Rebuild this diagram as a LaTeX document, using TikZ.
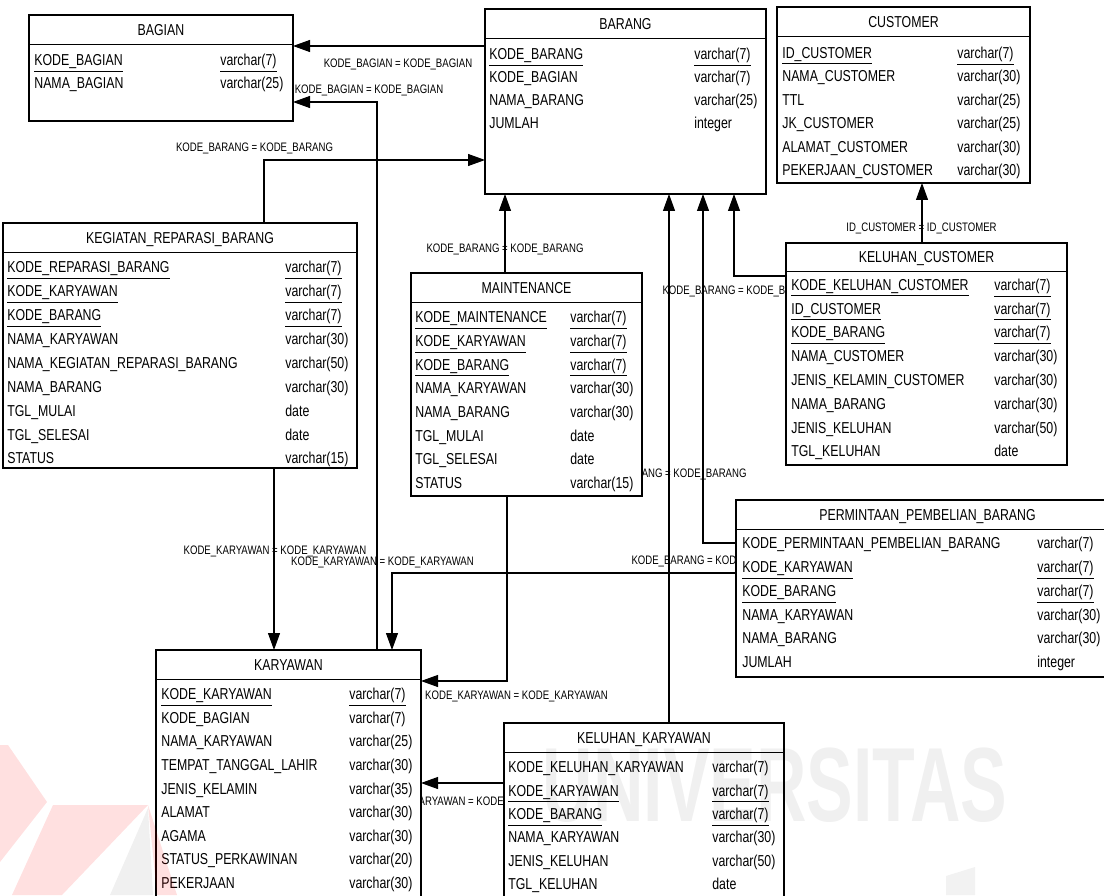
\documentclass[tikz,border=0pt]{standalone}
\usepackage{fontspec}
\setmainfont[FakeStretch=0.78]{Liberation Sans}
\usetikzlibrary{arrows.meta}

\begin{document}
\begin{tikzpicture}[x=0.02cm,y=-0.02cm]
\tikzstyle{tbl} = [draw, fill=white, line width=0.6pt, anchor=north west, inner sep=0pt, outer sep=0pt]
\tikzstyle{ttl} = [anchor=base, inner sep=0pt, font=\fontsize{9}{11}\selectfont]
\tikzstyle{fld} = [anchor=base west, inner sep=0pt, font=\fontsize{9}{11}\selectfont]
\tikzstyle{rel} = [anchor=base, inner sep=0pt, font=\fontsize{7}{8}\selectfont]
\tikzstyle{fk} = [line width=0.6pt, -{Triangle[length=3.4mm,width=2.4mm]}]

\useasboundingbox (0,0) rectangle (1104,895);
\clip (0,0) rectangle (1104,895);

% tables (empty frames first, so the connectors can use their names)
\path node[tbl, minimum width=264*0.02cm, minimum height=106*0.02cm] (bagian) at (29,15) {}
      node[tbl, minimum width=281*0.02cm, minimum height=185*0.02cm] (barang) at (485,9) {}
      node[tbl, minimum width=253*0.02cm, minimum height=176*0.02cm] (customer) at (777,7) {}
      node[tbl, minimum width=354*0.02cm, minimum height=245*0.02cm] (kegiatan) at (3,223) {}
      node[tbl, minimum width=231*0.02cm, minimum height=223*0.02cm] (maintenance) at (411,273) {}
      node[tbl, minimum width=281*0.02cm, minimum height=222*0.02cm] (kelcust) at (786,243) {}
      node[tbl, minimum width=383*0.02cm, minimum height=177*0.02cm] (permintaan) at (736,500) {}
      node[tbl, minimum width=265*0.02cm, minimum height=260*0.02cm] (karyawan) at (156,650) {}
      node[tbl, minimum width=280*0.02cm, minimum height=200*0.02cm] (kelkary) at (504,723) {};

% relations
\draw[fk] (barang.west |- 0,46) -- (bagian.east |- 0,46);
\draw[fk] (karyawan.north -| 377,0) |- (bagian.east |- 0,102);
\draw[fk] (kegiatan.north -| 264,0) |- (barang.west |- 0,160);
\draw[fk] (maintenance.north -| 505,0) -- (barang.south -| 505,0);
\draw[fk] (kelcust.west |- 0,276) -| (barang.south -| 734,0);
\draw[fk] (kelcust.north -| 922,0) -- (customer.south -| 922,0);
\draw[fk] (kelkary.north -| 669,0) -- (barang.south -| 669,0);
\draw[fk] (permintaan.west |- 0,543) -| (barang.south -| 703,0);
\draw[fk] (kegiatan.south -| 274,0) -- (karyawan.north -| 274,0);
\draw[fk] (permintaan.west |- 0,573) -| (karyawan.north -| 392,0);
\draw[fk] (maintenance.south -| 507,0) |- (karyawan.east |- 0,681);
\draw[fk] (kelkary.west |- 0,783) -- (karyawan.east |- 0,783);

\node[rel] (l1) at (398,67.4) {KODE\_BAGIAN = KODE\_BAGIAN};
\node[rel] (l2) at (369,93.4) {KODE\_BAGIAN = KODE\_BAGIAN};
\node[rel] (l3) at (254.5,151.4) {KODE\_BARANG = KODE\_BARANG};
\node[rel] (l4) at (505,252.4) {KODE\_BARANG = KODE\_BARANG};
\node[rel] (l5) at (741,294.4) {KODE\_BARANG = KODE\_BARANG};
\node[rel] (l6) at (921.5,231.4) {ID\_CUSTOMER = ID\_CUSTOMER};
\node[rel] (l7) at (668,477.4) {KODE\_BARANG = KODE\_BARANG};
\node[rel] (l8) at (710,564.4) {KODE\_BARANG = KODE\_BARANG};
\node[rel] (l9) at (275,554.4) {KODE\_KARYAWAN = KODE\_KARYAWAN};
\node[rel] (l10) at (382.5,565.4) {KODE\_KARYAWAN = KODE\_KARYAWAN};
\node[rel] (l11) at (516.5,699.4) {KODE\_KARYAWAN = KODE\_KARYAWAN};
\node[rel] (l12) at (471,805.4) {KODE\_KARYAWAN = KODE\_KARYAWAN};

% BAGIAN
\node[tbl, minimum width=264*0.02cm, minimum height=106*0.02cm] (bagian-f) at (29,15) {};
\draw (bagian.west |- 0,44) -- (bagian.east |- 0,44);
\node[ttl] (bagian-h) at (161,35.5) {BAGIAN};
\foreach \n/\t [count=\i] in {\underline{KODE\_BAGIAN}/\underline{varchar(7)}, NAMA\_BAGIAN/varchar(25)}
  \path (34,{65.7+23*(\i-1)}) node[fld] (bagian-n\i) {\n}
        (220,{65.7+23*(\i-1)}) node[fld] (bagian-t\i) {\t};

% BARANG
\node[tbl, minimum width=281*0.02cm, minimum height=185*0.02cm] (barang-f) at (485,9) {};
\draw (barang.west |- 0,38) -- (barang.east |- 0,38);
\node[ttl] (barang-h) at (625.5,29.5) {BARANG};
\foreach \n/\t [count=\i] in {\underline{KODE\_BARANG}/\underline{varchar(7)}, KODE\_BAGIAN/varchar(7),
    NAMA\_BARANG/varchar(25), JUMLAH/integer}
  \path (489,{59.7+23*(\i-1)}) node[fld] (barang-n\i) {\n}
        (694,{59.7+23*(\i-1)}) node[fld] (barang-t\i) {\t};

% CUSTOMER
\node[tbl, minimum width=253*0.02cm, minimum height=176*0.02cm] (customer-f) at (777,7) {};
\draw (customer.west |- 0,36) -- (customer.east |- 0,36);
\node[ttl] (customer-h) at (903.5,27.5) {CUSTOMER};
\foreach \n/\t [count=\i] in {\underline{ID\_CUSTOMER}/\underline{varchar(7)}, NAMA\_CUSTOMER/varchar(30),
    TTL/varchar(25), JK\_CUSTOMER/varchar(25), ALAMAT\_CUSTOMER/varchar(30), PEKERJAAN\_CUSTOMER/varchar(30)}
  \path (782,{58.2+23.5*(\i-1)}) node[fld] (customer-n\i) {\n}
        (957,{58.2+23.5*(\i-1)}) node[fld] (customer-t\i) {\t};

% KEGIATAN_REPARASI_BARANG
\node[tbl, minimum width=354*0.02cm, minimum height=245*0.02cm] (kegiatan-f) at (3,223) {};
\draw (kegiatan.west |- 0,252) -- (kegiatan.east |- 0,252);
\node[ttl] (kegiatan-h) at (180,243.5) {KEGIATAN\_REPARASI\_BARANG};
\foreach \n/\t [count=\i] in {\underline{KODE\_REPARASI\_BARANG}/\underline{varchar(7)},
    \underline{KODE\_KARYAWAN}/\underline{varchar(7)}, \underline{KODE\_BARANG}/\underline{varchar(7)},
    NAMA\_KARYAWAN/varchar(30), NAMA\_KEGIATAN\_REPARASI\_BARANG/varchar(50), NAMA\_BARANG/varchar(30),
    TGL\_MULAI/date, TGL\_SELESAI/date, STATUS/varchar(15)}
  \path (7,{272.7+23.9*(\i-1)}) node[fld] (kegiatan-n\i) {\n}
        (285,{272.7+23.9*(\i-1)}) node[fld] (kegiatan-t\i) {\t};

% MAINTENANCE
\node[tbl, minimum width=231*0.02cm, minimum height=223*0.02cm] (maintenance-f) at (411,273) {};
\draw (maintenance.west |- 0,302) -- (maintenance.east |- 0,302);
\node[ttl] (maintenance-h) at (526.5,293.5) {MAINTENANCE};
\foreach \n/\t [count=\i] in {\underline{KODE\_MAINTENANCE}/\underline{varchar(7)},
    \underline{KODE\_KARYAWAN}/\underline{varchar(7)}, \underline{KODE\_BARANG}/\underline{varchar(7)},
    NAMA\_KARYAWAN/varchar(30), NAMA\_BARANG/varchar(30), TGL\_MULAI/date, TGL\_SELESAI/date, STATUS/varchar(15)}
  \path (415,{322.7+23.7*(\i-1)}) node[fld] (maintenance-n\i) {\n}
        (570,{322.7+23.7*(\i-1)}) node[fld] (maintenance-t\i) {\t};

% KELUHAN_CUSTOMER
\node[tbl, minimum width=281*0.02cm, minimum height=222*0.02cm] (kelcust-f) at (786,243) {};
\draw (kelcust.west |- 0,271) -- (kelcust.east |- 0,271);
\node[ttl] (kelcust-h) at (926.5,262.5) {KELUHAN\_CUSTOMER};
\foreach \n/\t [count=\i] in {\underline{KODE\_KELUHAN\_CUSTOMER}/\underline{varchar(7)},
    \underline{ID\_CUSTOMER}/\underline{varchar(7)}, \underline{KODE\_BARANG}/\underline{varchar(7)},
    NAMA\_CUSTOMER/varchar(30), JENIS\_KELAMIN\_CUSTOMER/varchar(30), NAMA\_BARANG/varchar(30),
    JENIS\_KELUHAN/varchar(50), TGL\_KELUHAN/date}
  \path (791,{290.2+23.8*(\i-1)}) node[fld] (kelcust-n\i) {\n}
        (994,{290.2+23.8*(\i-1)}) node[fld] (kelcust-t\i) {\t};

% PERMINTAAN_PEMBELIAN_BARANG
\node[tbl, minimum width=383*0.02cm, minimum height=177*0.02cm] (permintaan-f) at (736,500) {};
\draw (permintaan.west |- 0,529) -- (permintaan.east |- 0,529);
\node[ttl] (permintaan-h) at (927.5,520.5) {PERMINTAAN\_PEMBELIAN\_BARANG};
\foreach \n/\t [count=\i] in {KODE\_PERMINTAAN\_PEMBELIAN\_BARANG/varchar(7),
    \underline{KODE\_KARYAWAN}/\underline{varchar(7)}, \underline{KODE\_BARANG}/\underline{varchar(7)},
    NAMA\_KARYAWAN/varchar(30), NAMA\_BARANG/varchar(30), JUMLAH/integer}
  \path (742,{548.7+23.8*(\i-1)}) node[fld] (permintaan-n\i) {\n}
        (1037,{548.7+23.8*(\i-1)}) node[fld] (permintaan-t\i) {\t};

% KARYAWAN
\node[tbl, minimum width=265*0.02cm, minimum height=260*0.02cm] (karyawan-f) at (156,650) {};
\draw (karyawan.west |- 0,679) -- (karyawan.east |- 0,679);
\node[ttl] (karyawan-h) at (288.5,670.5) {KARYAWAN};
\foreach \n/\t [count=\i] in {\underline{KODE\_KARYAWAN}/\underline{varchar(7)}, KODE\_BAGIAN/varchar(7),
    NAMA\_KARYAWAN/varchar(25), TEMPAT\_TANGGAL\_LAHIR/varchar(30), JENIS\_KELAMIN/varchar(35),
    ALAMAT/varchar(30), AGAMA/varchar(30), STATUS\_PERKAWINAN/varchar(20), PEKERJAAN/varchar(30)}
  \path (161,{699.7+23.6*(\i-1)}) node[fld] (karyawan-n\i) {\n}
        (349,{699.7+23.6*(\i-1)}) node[fld] (karyawan-t\i) {\t};

% KELUHAN_KARYAWAN
\node[tbl, minimum width=280*0.02cm, minimum height=200*0.02cm] (kelkary-f) at (504,723) {};
\draw (kelkary.west |- 0,752) -- (kelkary.east |- 0,752);
\node[ttl] (kelkary-h) at (644,743.5) {KELUHAN\_KARYAWAN};
\foreach \n/\t [count=\i] in {KODE\_KELUHAN\_KARYAWAN/varchar(7),
    \underline{KODE\_KARYAWAN}/\underline{varchar(7)}, \underline{KODE\_BARANG}/\underline{varchar(7)},
    NAMA\_KARYAWAN/varchar(30), JENIS\_KELUHAN/varchar(50), TGL\_KELUHAN/date}
  \path (508,{772.7+23.4*(\i-1)}) node[fld] (kelkary-n\i) {\n}
        (712,{772.7+23.4*(\i-1)}) node[fld] (kelkary-t\i) {\t};

% watermark
\fill[red, opacity=0.12] (0,745) -- (8,745) -- (47,802) -- (0,862) -- cycle;
\fill[red, opacity=0.12] (53,805) -- (148,805) -- (62,895) -- (12,895) -- cycle;
\fill[red, opacity=0.12] (148,805) -- (177,895) -- (157,895) -- cycle;
\fill[black, opacity=0.06] (148,808) -- (153,895) -- (110,895) -- cycle;
\fill[black, opacity=0.05] (946,876) -- (975,867) -- (975,895) -- (946,895) -- cycle;
\node[anchor=base, inner sep=0pt, text opacity=0.06, font=\fontsize{60}{60}\selectfont\bfseries, xscale=0.85] (wm) at (775,821) {UNIVERSITAS};

\end{tikzpicture}
\end{document}
